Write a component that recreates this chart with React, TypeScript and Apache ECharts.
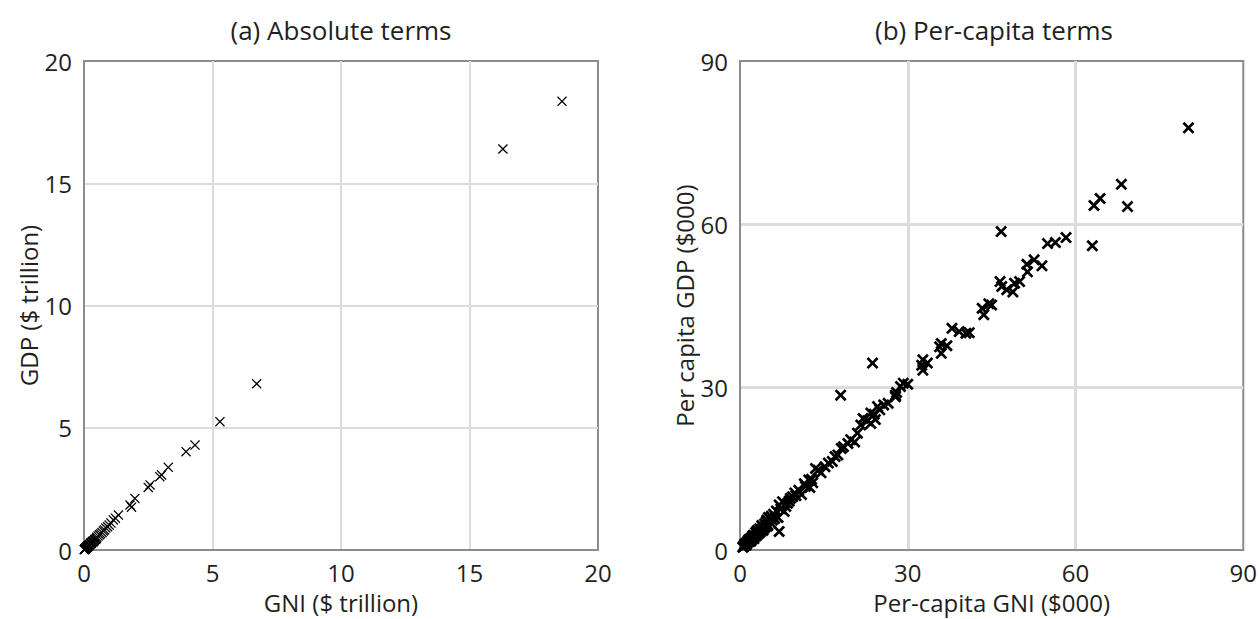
import React, { useEffect, useRef } from "react";
import * as echarts from "echarts";

// (a) absolute terms, $ trillion
const gniAbs: number[] = [18.6, 16.3, 6.72, 5.29, 4.32, 3.97, 3.28, 3.02, 2.95, 2.57, 2.5, 1.98, 1.79, 1.85, 1.34, 1.14, 1.22, 1.05, 0.98, 0.92, 0.85, 0.8, 0.75, 0.7, 0.65, 0.6, 0.55, 0.5, 0.48, 0.45, 0.42, 0.4, 0.36, 0.33, 0.3, 0.28, 0.25, 0.22, 0.2, 0.18, 0.15, 0.13, 0.11, 0.09, 0.08, 0.06, 0.05, 0.04, 0.03, 0.02, 0.01, 0.35, 0.27, 0.17, 0.12, 0.07];
const gdpAbs: number[] = [18.35, 16.4, 6.8, 5.25, 4.29, 4.02, 3.38, 3.07, 3.0, 2.66, 2.56, 2.11, 1.84, 1.75, 1.43, 1.23, 1.3, 1.1, 1.02, 0.95, 0.9, 0.82, 0.78, 0.72, 0.66, 0.62, 0.57, 0.52, 0.47, 0.44, 0.43, 0.38, 0.37, 0.34, 0.31, 0.27, 0.26, 0.23, 0.2, 0.18, 0.16, 0.13, 0.11, 0.1, 0.08, 0.06, 0.05, 0.04, 0.03, 0.02, 0.01, 0.33, 0.29, 0.16, 0.13, 0.07];

// (b) per-capita terms, $000
const gniPc: number[] = [80.2, 68.2, 64.4, 63.3, 69.3, 63.0, 46.7, 58.3, 56.4, 52.6, 54.0, 51.3, 51.4, 50.0, 49.1, 46.5, 47.7, 48.8, 46.8, 45.0, 43.3, 43.6, 40.4, 39.2, 37.9, 36.0, 35.7, 36.0, 32.7, 32.5, 32.7, 33.5, 23.7, 18.0, 7.0, 29.2, 28.7, 27.8, 27.8, 25.7, 24.6, 23.4, 22.0, 21.6, 23.4, 24.2, 22.8, 20.5, 19.3, 18.1, 17.5, 17.0, 15.2, 14.0, 13.5, 14.5, 12.3, 11.7, 12.5, 10.5, 11.0, 9.4, 9.8, 8.8, 7.6, 7.0, 7.9, 8.2, 6.5, 6.0, 5.3, 4.7, 5.8, 5.0, 4.4, 4.0, 3.8, 4.2, 3.5, 3.2, 3.0, 2.8, 2.6, 2.4, 2.2, 2.0, 1.8, 1.6, 1.5, 1.3, 1.2, 1.0, 0.9, 0.8, 0.7, 0.6, 1.1, 2.5, 3.3, 4.5, 5.5, 6.2, 7.3, 8.5, 9.0, 10.0, 11.5, 12.8, 13.0, 15.8, 16.5, 18.5, 19.8, 21.0, 24.0, 25.0, 26.5, 28.0, 30.0, 2.1, 2.9, 3.6, 4.8, 5.1, 5.6, 6.8, 1.4, 1.7, 2.3, 3.1, 3.9, 4.1, 4.9, 0.5, 1.9, 37.0, 44.5, 41.0, 55.0];
const gdpPc: number[] = [77.7, 67.3, 64.7, 63.4, 63.2, 56.0, 58.6, 57.5, 56.6, 53.4, 52.3, 52.6, 51.2, 49.4, 49.1, 49.4, 47.9, 47.5, 48.5, 45.1, 44.5, 43.3, 39.9, 40.2, 40.8, 38.0, 37.4, 36.2, 35.0, 34.0, 33.1, 34.4, 34.4, 28.5, 3.4, 30.7, 30.1, 28.5, 28.2, 26.7, 26.4, 25.2, 24.2, 23.0, 23.3, 24.0, 23.8, 19.9, 19.6, 18.7, 17.5, 17.2, 15.3, 14.7, 15.0, 14.2, 12.9, 11.7, 11.5, 11.0, 10.2, 9.8, 10.5, 9.0, 8.9, 8.3, 7.1, 8.0, 7.2, 6.6, 5.8, 5.2, 5.5, 4.6, 4.8, 4.3, 3.7, 3.9, 3.9, 3.4, 2.9, 3.2, 2.5, 2.7, 2.3, 2.2, 1.9, 1.5, 1.8, 1.4, 1.1, 1.2, 0.9, 1.0, 0.7, 0.6, 0.9, 2.1, 3.0, 4.2, 5.0, 5.8, 7.6, 8.6, 9.5, 10.0, 12.2, 13.0, 12.4, 16.0, 16.3, 19.0, 20.3, 21.5, 25.0, 25.8, 27.0, 29.0, 30.5, 1.9, 2.6, 3.3, 5.5, 6.0, 6.2, 6.0, 1.6, 2.0, 2.6, 3.6, 4.5, 3.6, 4.4, 0.5, 1.6, 37.6, 45.3, 40.0, 56.4];

const titles: string[] = ["(a) Absolute terms", "(b) Per-capita terms"];
const xNames: string[] = ["GNI ($ trillion)", "Per-capita GNI ($000)"];
const yNames: string[] = ["GDP ($ trillion)", "Per capita GDP ($000)"];

const FONT = "Open Sans";
const TXT = "#231f20";
const FRAME = "#8c8c8c";
const GRID = "#dcdcdc";

const thinX = "path://M0,0.9L0.9,0L5,4.1L9.1,0L10,0.9L5.9,5L10,9.1L9.1,10L5,5.9L0.9,10L0,9.1L4.1,5Z";
const boldX = "path://M0,1.6L1.6,0L5,3.4L8.4,0L10,1.6L6.6,5L10,8.4L8.4,10L5,6.6L1.6,10L0,8.4L3.4,5Z";

export default function App() {
  const ref = useRef<HTMLDivElement>(null);
  useEffect(() => {
    if (!ref.current) return;
    const chart = echarts.init(ref.current, undefined, { renderer: "svg" });
    const axisCommon = (max: number, interval: number, gridW: number, margin: number) => ({
      type: "value" as const,
      min: 0,
      max,
      interval,
      axisLine: { show: true, lineStyle: { color: FRAME, width: 2 } },
      axisTick: { show: false },
      axisLabel: { fontFamily: FONT, fontSize: 24, lineHeight: 24, color: TXT, margin },
      splitLine: { show: true, showMinLine: false, showMaxLine: false, lineStyle: { color: GRID, width: gridW } },
      nameTextStyle: { fontFamily: FONT, fontSize: 24, lineHeight: 24, color: TXT },
      nameLocation: "middle" as const,
    });
    chart.setOption({
      animation: false,
      grid: [
        { left: 84, top: 61, width: 514, height: 489, show: true, borderColor: FRAME, borderWidth: 2 },
        { left: 740, top: 61, width: 513, height: 489, show: true, borderColor: FRAME, borderWidth: 2 },
      ],
      xAxis: [
        { ...axisCommon(20, 5, 2, 10), gridIndex: 0, name: xNames[0], nameGap: 40 },
        { ...axisCommon(90, 30, 3, 10), gridIndex: 1, name: xNames[1], nameGap: 40 },
      ],
      yAxis: [
        { ...axisCommon(20, 5, 2, 12), gridIndex: 0, name: yNames[0], nameGap: 33 },
        { ...axisCommon(90, 30, 3, 12), gridIndex: 1, name: yNames[1], nameGap: 41 },
      ],
      graphic: [
        { type: "text", x: 341, y: 30, style: { text: titles[0], fontFamily: FONT, fontSize: 26, fill: TXT, align: "center", verticalAlign: "middle" } },
        { type: "text", x: 994, y: 30, style: { text: titles[1], fontFamily: FONT, fontSize: 26, fill: TXT, align: "center", verticalAlign: "middle" } },
      ],
      series: [
        {
          type: "scatter",
          xAxisIndex: 0,
          yAxisIndex: 0,
          symbol: thinX,
          symbolSize: 10,
          itemStyle: { color: "#000", opacity: 1 },
          data: gniAbs.map((v, i) => [v, gdpAbs[i]]),
        },
        {
          type: "scatter",
          xAxisIndex: 1,
          yAxisIndex: 1,
          symbol: boldX,
          symbolSize: 12,
          itemStyle: { color: "#000", opacity: 1 },
          data: gniPc.map((v, i) => [v, gdpPc[i]]),
        },
      ],
    });
    return () => chart.dispose();
  }, []);
  return <div ref={ref} style={{ position: "absolute", left: 0, top: 0, width: 1260, height: 619 }} />;
}
